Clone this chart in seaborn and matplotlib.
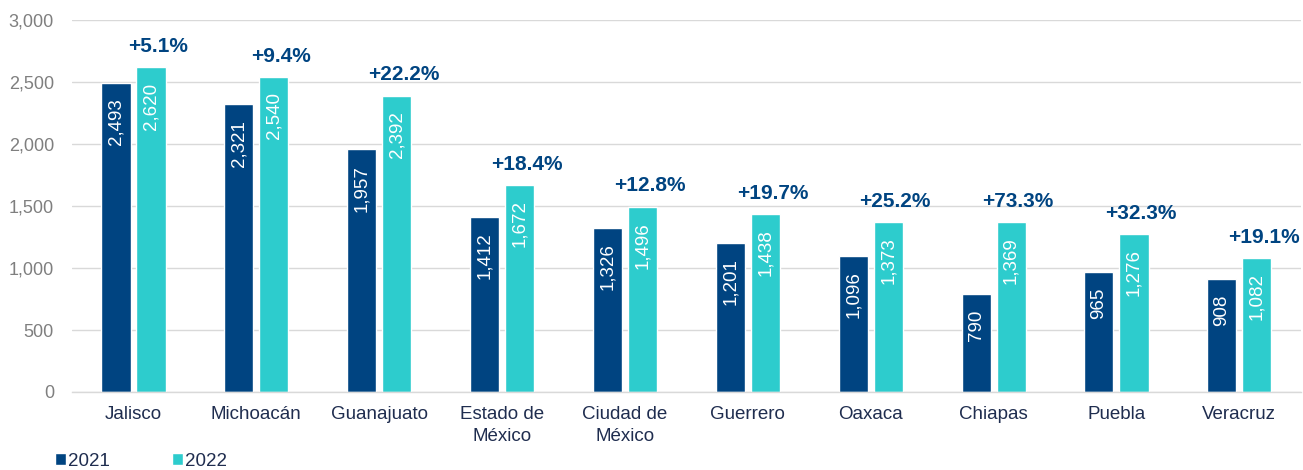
import matplotlib.pyplot as plt
import seaborn as sns
import pandas as pd
from matplotlib.patches import Patch

# Data
states = ['Jalisco', 'Michoacán', 'Guanajuato', 'Estado de\nMéxico', 'Ciudad de\nMéxico',
          'Guerrero', 'Oaxaca', 'Chiapas', 'Puebla', 'Veracruz']
values_2021 = [2493, 2321, 1957, 1412, 1326, 1201, 1096, 790, 965, 908]
values_2022 = [2620, 2540, 2392, 1672, 1496, 1438, 1373, 1369, 1276, 1082]
growth = ['+5.1%', '+9.4%', '+22.2%', '+18.4%', '+12.8%', '+19.7%', '+25.2%', '+73.3%', '+32.3%', '+19.1%']
years = ['2021', '2022']
colors = ['#004481', '#2DCCCD']

df = pd.DataFrame({
    'state': states * 2,
    'year': ['2021'] * len(states) + ['2022'] * len(states),
    'value': values_2021 + values_2022,
})

sns.set_style('white')
plt.rcParams['font.family'] = ['Liberation Sans', 'DejaVu Sans']

fig = plt.figure(figsize=(13.03, 4.70), dpi=100)
ax = fig.add_axes([0.0553, 0.166, 0.943, 0.791])

sns.barplot(data=df, x='state', y='value', hue='year', palette=colors,
            width=0.57, gap=0.17, ax=ax, legend=False, saturation=1)

ax.set_ylim(0, 3000)
ax.set_xlim(-0.5, len(states) - 0.5)
ax.set_yticks(range(0, 3001, 500))
ax.set_yticklabels([f'{v:,}' for v in range(0, 3001, 500)], color='#7f7f7f', fontsize=13)
ax.yaxis.grid(True, color='#d9d9d9', linewidth=1)
ax.set_axisbelow(True)
ax.set_xlabel('')
ax.set_ylabel('')
ax.tick_params(axis='y', length=0, pad=13)
ax.tick_params(axis='x', length=0, pad=10, labelsize=13.5, labelcolor='#1f2d4f')
for lbl in ax.get_xticklabels():
    lbl.set_linespacing(1.4)

# boundary ticks on x axis
ax.set_xticks([i + 0.5 for i in range(-1, len(states))], minor=True)
ax.tick_params(axis='x', which='minor', length=5, color='#d9d9d9', width=1)

for side in ['top', 'right', 'left']:
    ax.spines[side].set_visible(False)
ax.spines['bottom'].set_color('#d9d9d9')
ax.spines['bottom'].set_linewidth(1)

# value labels inside bars
for container in ax.containers:
    for bar in container:
        h = bar.get_height()
        ax.annotate(f'{int(h):,}', (bar.get_x() + bar.get_width() / 2, h),
                    xytext=(0, -11), textcoords='offset points',
                    ha='center', va='top', rotation=90, color='white', fontsize=13.5)

# growth labels
for i, (v, g) in enumerate(zip(values_2022, growth)):
    ax.annotate(g, (i + 0.2, v), xytext=(0, 8), textcoords='offset points',
                ha='center', va='bottom', fontsize=15, fontweight='bold', color='#004481')

handles = [Patch(facecolor=c, label=y) for c, y in zip(colors, years)]
fig.legend(handles=handles, loc='lower left', bbox_to_anchor=(0.029, -0.035), ncol=2,
           frameon=False, fontsize=13.5, handlelength=0.6, handleheight=0.6,
           handletextpad=0.1, columnspacing=3.3, labelcolor='#1f2d4f')

fig.savefig('out.png', dpi=100)
